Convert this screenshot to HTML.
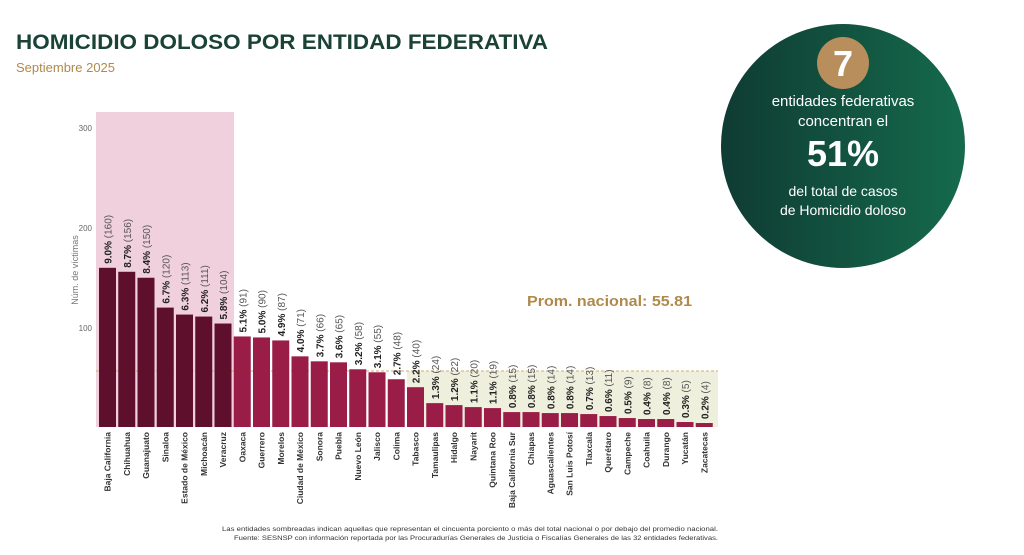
<!DOCTYPE html>
<html><head><meta charset="utf-8"><style>
body{margin:0;width:1024px;height:550px;background:#fff;overflow:hidden;font-family:"Liberation Sans","DejaVu Sans",sans-serif}
</style></head><body>
<svg width="1024" height="550" xmlns="http://www.w3.org/2000/svg" font-family="Liberation Sans, DejaVu Sans, sans-serif">
<defs><linearGradient id="g" x1="0" x2="1" y1="0" y2="0"><stop offset="0" stop-color="#0f3b33"/><stop offset="1" stop-color="#156a4c"/></linearGradient></defs>
<text x="16" y="49" font-size="21" font-weight="bold" fill="#1a4236" textLength="532" lengthAdjust="spacingAndGlyphs">HOMICIDIO DOLOSO POR ENTIDAD FEDERATIVA</text>
<text x="16" y="72" font-size="13" fill="#b08a4a">Septiembre 2025</text>
<rect x="96" y="112" width="138" height="315" fill="#f0d0dc"/>
<rect x="407" y="371" width="311" height="56" fill="#efefde"/>
<line x1="96" y1="371" x2="718" y2="371" stroke="#c9b06a" stroke-dasharray="3,2" stroke-width="1"/>
<g font-size="8" fill="#666" text-anchor="end"><text x="92" y="131">300</text><text x="92" y="231">200</text><text x="92" y="331">100</text></g>
<text transform="translate(78,270) rotate(-90)" font-size="9" fill="#777" text-anchor="middle">Núm. de víctimas</text>
<text x="527" y="306" font-size="15" font-weight="bold" fill="#b08a4a" textLength="165" lengthAdjust="spacingAndGlyphs">Prom. nacional: 55.81</text>
<g id="bars"></g>
<circle cx="843" cy="146" r="122" fill="url(#g)"/>
<circle cx="843" cy="63" r="26" fill="#b78e5c"/>
<text x="843" y="76" font-size="36" font-weight="bold" fill="#fff" text-anchor="middle">7</text>
<g fill="#fff" text-anchor="middle"><text x="843" y="106" font-size="15">entidades federativas</text><text x="843" y="126" font-size="15">concentran el</text><text x="843" y="166" font-size="36" font-weight="bold">51%</text><text x="843" y="196" font-size="14">del total de casos</text><text x="843" y="215" font-size="14">de Homicidio doloso</text></g>
<g font-size="6.5" fill="#333"><text x="222" y="531" textLength="496" lengthAdjust="spacingAndGlyphs">Las entidades sombreadas indican aquellas que representan el cincuenta porciento o más del total nacional o por debajo del promedio nacional.</text><text x="234" y="540" textLength="484" lengthAdjust="spacingAndGlyphs">Fuente: SESNSP con información reportada por las Procuradurías Generales de Justicia o Fiscalías Generales de las 32 entidades federativas.</text></g>
</svg>
<script>
const d=[["Baja California",160,"9.0%"],["Chihuahua",156,"8.7%"],["Guanajuato",150,"8.4%"],["Sinaloa",120,"6.7%"],["Estado de México",113,"6.3%"],["Michoacán",111,"6.2%"],["Veracruz",104,"5.8%"],["Oaxaca",91,"5.1%"],["Guerrero",90,"5.0%"],["Morelos",87,"4.9%"],["Ciudad de México",71,"4.0%"],["Sonora",66,"3.7%"],["Puebla",65,"3.6%"],["Nuevo León",58,"3.2%"],["Jalisco",55,"3.1%"],["Colima",48,"2.7%"],["Tabasco",40,"2.2%"],["Tamaulipas",24,"1.3%"],["Hidalgo",22,"1.2%"],["Nayarit",20,"1.1%"],["Quintana Roo",19,"1.1%"],["Baja California Sur",15,"0.8%"],["Chiapas",15,"0.8%"],["Aguascalientes",14,"0.8%"],["San Luis Potosí",14,"0.8%"],["Tlaxcala",13,"0.7%"],["Querétaro",11,"0.6%"],["Campeche",9,"0.5%"],["Coahuila",8,"0.4%"],["Durango",8,"0.4%"],["Yucatán",5,"0.3%"],["Zacatecas",4,"0.2%"]];
let s="";const B=427;
d.forEach((r,i)=>{const x=99+i*19.25,h=r[1]*0.995,c=x+8.5;
s+=`<rect x="${x}" y="${B-h}" width="17" height="${h}" fill="${i<7?'#5e0f2c':'#9a1d48'}"/>`;
s+=`<text transform="translate(${c+4},${B-h-4}) rotate(-90)" font-size="10" fill="#222"><tspan font-weight="bold">${r[2]}</tspan><tspan fill="#555"> (${r[1]})</tspan></text>`;
s+=`<text transform="translate(${c+3},432) rotate(-90)" font-size="8.5" font-weight="bold" fill="#333" text-anchor="end">${r[0]}</text>`;});
document.getElementById("bars").innerHTML=s;
</script>
</body></html>
